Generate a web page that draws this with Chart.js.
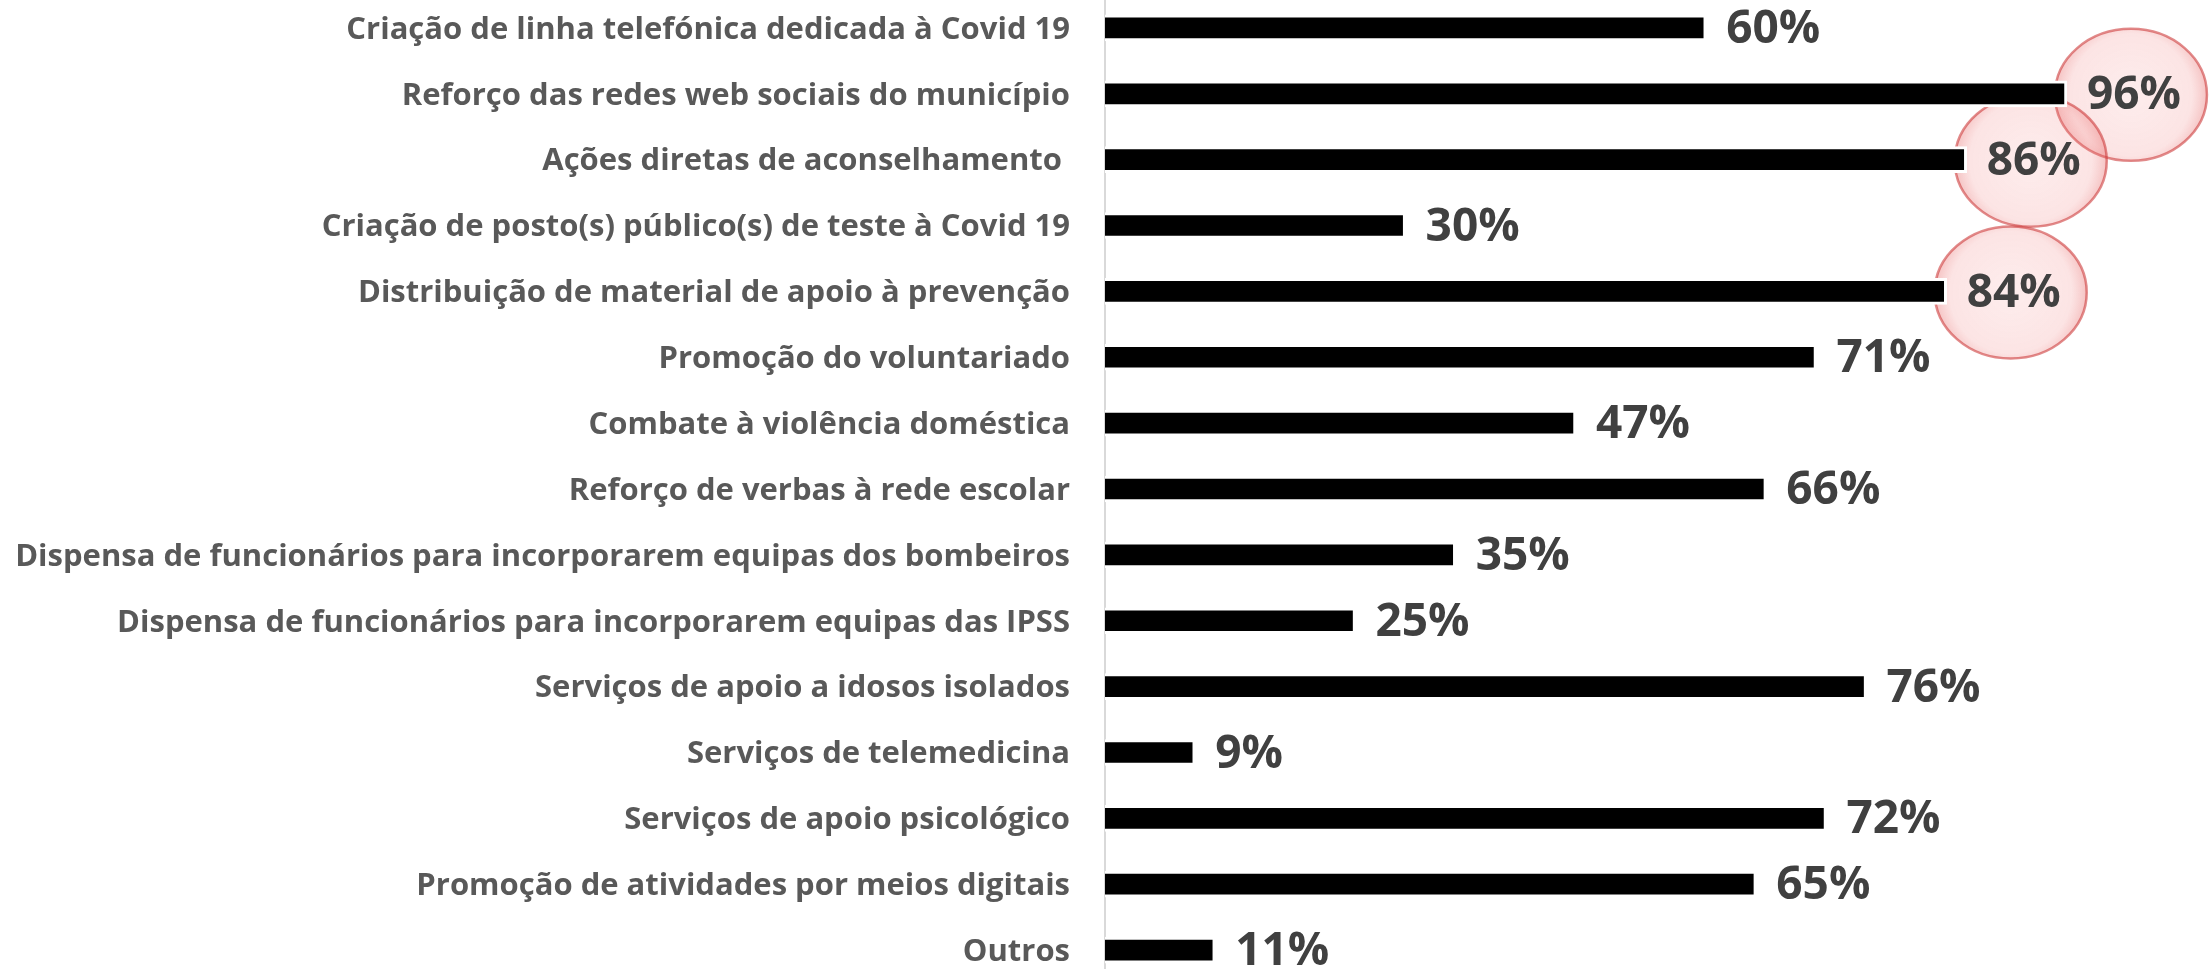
<!DOCTYPE html>
<html>
<head>
<meta charset="utf-8">
<script src="https://cdn.jsdelivr.net/npm/chart.js@4/dist/chart.umd.min.js"></script>
<style>
  html, body { margin: 0; padding: 0; background: #ffffff; overflow: hidden; width: 2209px; height: 969px; }
  #wrap { position: absolute; left: 0; top: -5px; width: 2209px; height: 988px; }
  canvas { display: block; }
</style>
</head>
<body>
<div id="wrap"><canvas id="c" width="2209" height="988"></canvas></div>
<script>
const categories = [
  "Criação de linha telefónica dedicada à Covid 19",
  "Reforço das redes web sociais do município",
  "Ações diretas de aconselhamento ",
  "Criação de posto(s) público(s) de teste à Covid 19",
  "Distribuição de material de apoio à prevenção",
  "Promoção do voluntariado",
  "Combate à violência doméstica",
  "Reforço de verbas à rede escolar",
  "Dispensa de funcionários para incorporarem equipas dos bombeiros",
  "Dispensa de funcionários para incorporarem equipas das IPSS",
  "Serviços de apoio a idosos isolados",
  "Serviços de telemedicina",
  "Serviços de apoio psicológico",
  "Promoção de atividades por meios digitais",
  "Outros"
];
const values = [60, 96, 86, 30, 84, 71, 47, 66, 35, 25, 76, 9, 72, 65, 11];
const highlighted = [false, true, true, false, true, false, false, false, false, false, false, false, false, false, false];

const LABEL_FONT = "bold 46px 'Open Sans', 'Liberation Sans', sans-serif";
const LABEL_GAP = 20;

const circlePlugin = {
  id: 'circles',
  beforeDatasetsDraw(chart) {
    const ctx = chart.ctx;
    const meta = chart.getDatasetMeta(0);
    ctx.save();
    ctx.font = LABEL_FONT;
    meta.data.forEach((bar, i) => {
      if (!highlighted[i]) return;
      const txt = values[i] + '%';
      const w = ctx.measureText(txt).width;
      const cx = bar.x + LABEL_GAP + w / 2 - 3;
      const cy = bar.y + 1;
      const rx = 76, ry = 66;
      const g = ctx.createRadialGradient(cx, cy, 0, cx, cy, rx);
      g.addColorStop(0, 'rgba(245,140,140,0.16)');
      g.addColorStop(0.8, 'rgba(240,120,120,0.20)');
      g.addColorStop(1, 'rgba(225,80,80,0.35)');
      ctx.beginPath();
      ctx.ellipse(cx, cy, rx, ry, 0, 0, Math.PI * 2);
      ctx.fillStyle = g;
      ctx.fill();
      ctx.lineWidth = 2.5;
      ctx.strokeStyle = 'rgba(205,60,60,0.6)';
      ctx.stroke();
    });
    ctx.restore();
  }
};

const valueLabelPlugin = {
  id: 'valueLabels',
  afterDatasetsDraw(chart) {
    const ctx = chart.ctx;
    const meta = chart.getDatasetMeta(0);
    ctx.save();
    ctx.font = LABEL_FONT;
    ctx.fillStyle = '#404040';
    ctx.textAlign = 'left';
    ctx.textBaseline = 'middle';
    meta.data.forEach((bar, i) => {
      ctx.fillText(values[i] + '%', bar.x + LABEL_GAP, bar.y + 2);
    });
    ctx.restore();
  }
};

new Chart(document.getElementById('c'), {
  type: 'bar',
  data: {
    labels: categories,
    datasets: [{
      data: values,
      backgroundColor: '#000000',
      borderColor: '#ffffff',
      borderWidth: 3,
      borderSkipped: 'start',
      barThickness: 26
    }]
  },
  options: {
    indexAxis: 'y',
    responsive: false,
    animation: false,
    devicePixelRatio: 1,
    layout: { padding: { left: 0, right: 102, top: 0, bottom: 0 } },
    plugins: { legend: { display: false }, tooltip: { enabled: false } },
    scales: {
      x: { display: false, min: 0, max: 100 },
      y: {
        grid: { display: false, drawTicks: false },
        border: { display: true, color: '#d9d9d9', width: 2 },
        ticks: {
          color: '#595959',
          padding: 35,
          labelOffset: 2,
          font: { family: "'Open Sans', 'Liberation Sans', sans-serif", size: 31, weight: 'bold' }
        },
        afterFit(scale) {
          scale.width = 1105;
          scale.paddingTop = 0;
          scale.paddingBottom = 0;
        }
      }
    }
  },
  plugins: [circlePlugin, valueLabelPlugin]
});
</script>
</body>
</html>
